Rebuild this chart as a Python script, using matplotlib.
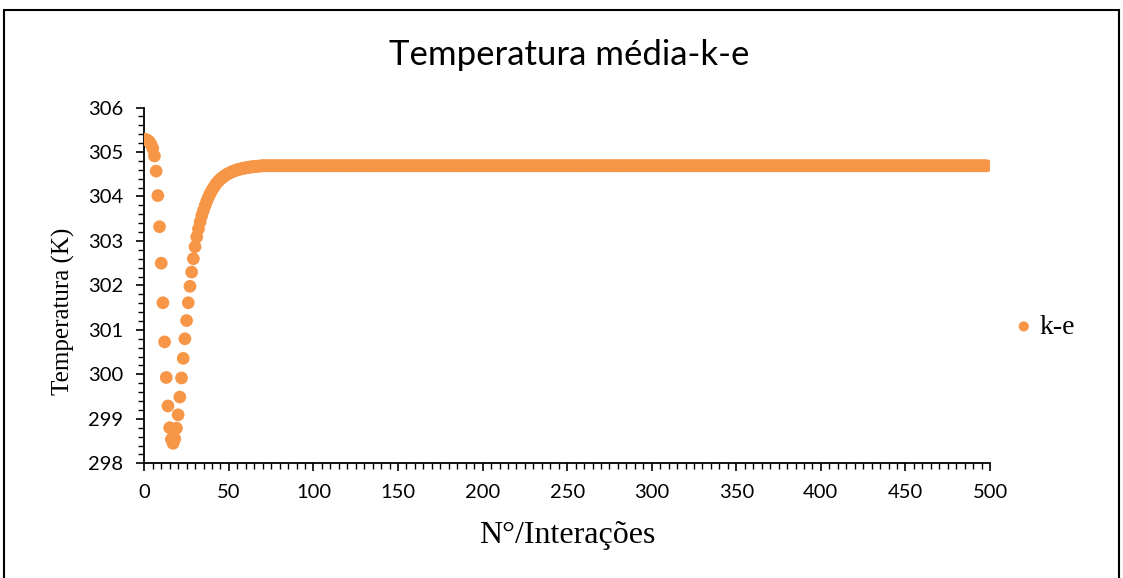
import matplotlib.pyplot as plt
import matplotlib.patches as mpatches
from matplotlib.ticker import MultipleLocator

# Average temperature per iteration (k-epsilon model)
transient = [
    305.29, 305.28, 305.26, 305.23, 305.17, 305.08, 304.91, 304.57, 304.02, 303.32,
    302.50, 301.61, 300.73, 299.93, 299.29, 298.80, 298.54, 298.45, 298.55, 298.79,
    299.09, 299.49, 299.92, 300.36, 300.80, 301.21, 301.61, 301.98, 302.30, 302.60,
    302.87, 303.09, 303.27, 303.43, 303.57, 303.69, 303.80, 303.90, 303.99, 304.07,
    304.14, 304.20, 304.26, 304.31, 304.35, 304.39, 304.42, 304.45, 304.48, 304.50,
    304.52, 304.54, 304.56, 304.57, 304.59, 304.60, 304.61, 304.62, 304.63, 304.64,
    304.64, 304.65, 304.66, 304.66, 304.67, 304.67, 304.68, 304.68, 304.68, 304.69,
    304.69,
]
converged_value = 304.69
n_iter = 499
temperature = transient + [converged_value] * (n_iter - len(transient))
iterations = list(range(n_iter))

orange = '#F79646'

fig = plt.figure(figsize=(11.23, 5.78), dpi=100)
ax = fig.add_axes([0.1285, 0.1984, 0.7531, 0.6156])

ax.scatter(iterations, temperature, s=84, color=orange, edgecolors='none',
           label='k-e', zorder=3)

ax.set_xlim(0, 500)
ax.set_ylim(298, 306)
ax.xaxis.set_major_locator(MultipleLocator(50))
ax.xaxis.set_minor_locator(MultipleLocator(5))
ax.yaxis.set_major_locator(MultipleLocator(1))
ax.yaxis.set_minor_locator(MultipleLocator(0.2))

for side in ('top', 'right'):
    ax.spines[side].set_visible(False)
for side in ('left', 'bottom'):
    ax.spines[side].set_linewidth(1.3)
    ax.spines[side].set_color('black')

ax.tick_params(which='major', direction='out', length=6, width=1.2, pad=9,
               labelsize=14.5, colors='black')
ax.tick_params(which='minor', direction='out', length=4, width=1.0)
for lbl in ax.get_xticklabels() + ax.get_yticklabels():
    lbl.set_fontfamily('Lato')

ax.set_xlabel('N°/Interações', fontsize=23, family='Liberation Serif', labelpad=14)
ax.set_ylabel('Temperatura (K)', fontsize=18, family='Liberation Serif')
ax.yaxis.set_label_coords(-0.082, 0.428)

fig.text(0.507, 0.905, 'Temperatura média-k-e', ha='center', va='center',
         fontsize=25, family='Lato')

fig.legend(loc='center left', bbox_to_anchor=(996 / 1123, 1 - 327 / 578),
           frameon=False, handletextpad=0.05, handlelength=1.0, borderpad=0,
           prop={'family': 'Liberation Serif', 'size': 20}, markerscale=0.8)

# chart border, open at the bottom edge of the image
fig.patches.append(mpatches.Rectangle((4 / 1123, -0.05), 1115 / 1123, 1.05 - 10 / 578,
                                      transform=fig.transFigure, fill=False,
                                      edgecolor='black', linewidth=1.5))

fig.savefig('out.png', dpi=100)
